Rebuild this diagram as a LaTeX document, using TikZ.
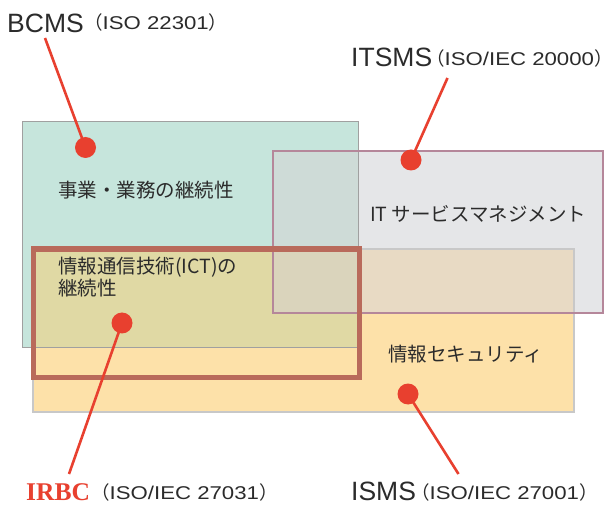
\documentclass[tikz,border=0pt]{standalone}
\usepackage{fontspec}
\setmainfont{Liberation Sans}
\newfontfamily\cjk{Noto Sans CJK JP}
\newfontfamily\parfont[FakeStretch=1.2]{Liberation Sans}
\newfontfamily\redserif{Liberation Serif}
\definecolor{txt}{HTML}{2B2B2B}
\definecolor{tealfill}{HTML}{C6E5DC}
\definecolor{grayfill}{HTML}{E5E6E8}
\definecolor{orangefill}{HTML}{FDE1A9}
\definecolor{tealorange}{HTML}{E0D9A4}
\definecolor{tealgray}{HTML}{CEDBD7}
\definecolor{grayorange}{HTML}{E8DAC4}
\definecolor{allthree}{HTML}{DAD4BC}
\definecolor{tealline}{HTML}{A0A0A0}
\definecolor{grayline}{HTML}{B5879A}
\definecolor{orangeline}{HTML}{C8C8C8}
\definecolor{irbcline}{HTML}{B96A5B}
\definecolor{dotred}{HTML}{E8402F}
\newcommand{\lpar}{\hspace*{-9pt}{\cjk （}}
\newcommand{\rpar}{{\cjk ）}\hspace*{-9pt}}
\pgfdeclarelayer{front}
\pgfsetlayers{main,front}
\begin{document}
\begin{tikzpicture}[x=1pt,y=-1pt,
  lab/.style={inner sep=0, text=txt, font=\fontsize{26.5}{26.5}\selectfont},
  parlab/.style={inner sep=0, text=txt, font=\parfont\fontsize{18.5}{18.5}\selectfont},
  redlab/.style={inner sep=0, text=dotred, font=\redserif\bfseries\fontsize{25.5}{25.5}\selectfont},
  inner/.style={inner sep=0, text=txt, align=left, font=\cjk\fontsize{19.5}{22}\selectfont},
  dot/.style={circle, fill=dotred, inner sep=0, minimum size=21},
  lead/.style={draw=dotred, line width=2.6}]
\useasboundingbox (0,0) rectangle (611,505);
\fill[white] (0,0) rectangle (611,505);
% corners
\coordinate (tA) at (22,122); \coordinate (tB) at (358,348);
\coordinate (gA) at (273,151); \coordinate (gB) at (603,313);
\coordinate (oA) at (33,249);  \coordinate (oB) at (574,412);
% base fills
\fill[tealfill] (tA) rectangle (tB);
\fill[orangefill] (oA) rectangle (oB);
\fill[grayfill] (gA) rectangle (gB);
% overlaps
\begin{scope}
  \clip (tA) rectangle (tB);
  \fill[tealorange] (oA) rectangle (oB);
  \fill[tealgray] (gA) rectangle (gB);
\end{scope}
\begin{scope}
  \clip (oA) rectangle (oB);
  \fill[grayorange] (gA) rectangle (gB);
\end{scope}
\begin{scope}
  \clip (tA) rectangle (tB);
  \clip (oA) rectangle (oB);
  \fill[allthree] (gA) rectangle (gB);
\end{scope}
% borders
\draw[tealline, line width=1] (tA) rectangle (tB);
\draw[orangeline, line width=1.2] (oA) rectangle (oB);
\draw[grayline, line width=1.3] (gA) rectangle (gB);
\draw[irbcline, line width=5.5] (33.5,249) rectangle (359.5,377.5);
% inner texts
\node[inner, anchor=west] (bcmsin) at (58,190.5) {事業・業務の継続性};
\node[inner, anchor=north west] (ictin) at (58,256.5) {情報通信技術(ICT)の\\継続性};
\node[inner, anchor=west] (itin) at (370,213.5) {IT サービスマネジメント};
\node[inner, anchor=west] (isin) at (388,354) {情報セキュリティ};
% labels
\node[lab, anchor=base west] (bcms) at (7,32.3) {BCMS};
\node[parlab, anchor=base west] (bcmsiso) at (93,30) {\lpar ISO 22301\rpar};
\node[lab, anchor=base west] (itsms) at (351,67) {ITSMS};
\node[parlab, anchor=base west] (itsmsiso) at (435,65.5) {\lpar ISO/IEC 20000\rpar};
\node[redlab, anchor=base west] (irbc) at (26,500) {IRBC};
\node[parlab, anchor=base west] (irbciso) at (100,499.5) {\lpar ISO/IEC 27031\rpar};
\node[lab, anchor=base west] (isms) at (351,500) {ISMS};
\node[parlab, anchor=base west] (ismsiso) at (420,499.5) {\lpar ISO/IEC 27001\rpar};
% leader ends
\coordinate (bcmsend) at (45,38);
\coordinate (itsmsend) at (447.5,78);
\coordinate (irbcend) at (69,474);
\coordinate (ismsend) at (458.5,474);
% dots
\begin{pgfonlayer}{front}
\node[dot] (bcmsdot) at (85.5,147.5) {};
\node[dot] (itsmsdot) at (411,160) {};
\node[dot] (irbcdot) at (122,323) {};
\node[dot] (ismsdot) at (408,394) {};
\end{pgfonlayer}
% leaders
\draw[lead] (bcmsend) -- (bcmsdot.center);
\draw[lead] (itsmsend) -- (itsmsdot.center);
\draw[lead] (irbcend) -- (irbcdot.center);
\draw[lead] (ismsend) -- (ismsdot.center);
\end{tikzpicture}
\end{document}
